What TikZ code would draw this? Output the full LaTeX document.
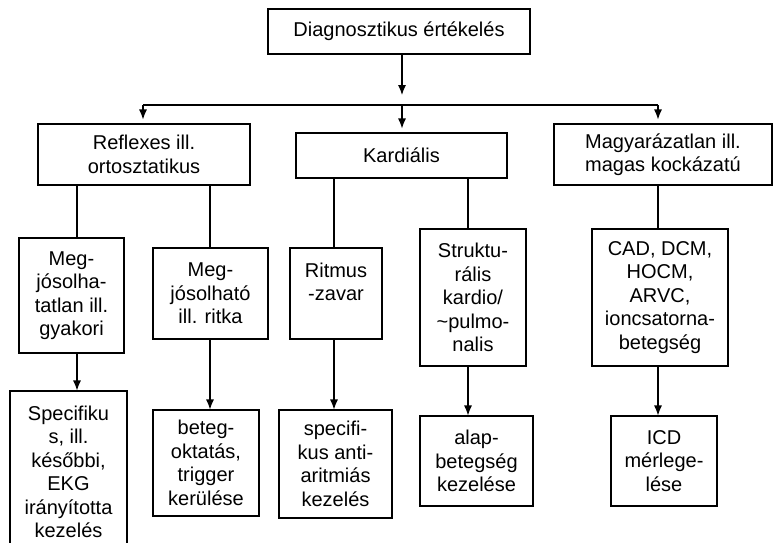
\documentclass[tikz,border=0pt]{standalone}
\usepackage{fontspec}
\setmainfont{Liberation Sans}
\usetikzlibrary{arrows.meta}

\begin{document}
\begin{tikzpicture}[x=1pt,y=-1pt,line width=1.1pt,
  box/.style={draw, align=center, inner sep=0pt,
    font=\fontsize{20}{23.5}\selectfont},
  >={Latex[length=10pt,width=8pt]}]

  \clip (0,0) rectangle (773,542);
  \fill[white] (0,0) rectangle (773,542);

  \node[box, minimum width=262, minimum height=45] (top) at (399,31.5) {Diagnosztikus értékelés};

  \node[box, minimum width=212, minimum height=61] (a1) at (144,154.5) {Reflexes ill.\\ortosztatikus};
  \node[box, minimum width=211, minimum height=45] (a2) at (401.5,155.5) {Kardiális};
  \node[box, minimum width=218, minimum height=61] (a3) at (663,154.5) {Magyarázatlan ill.\\magas kockázatú};

  \node[box, minimum width=105, minimum height=115] (b1) at (71.5,295.5) {Meg-\\jósolha-\\tatlan ill.\\gyakori};
  \node[box, minimum width=115, minimum height=91] (b2) at (210.5,293.5) {Meg-\\jósolható\\ill. ritka};
  \node[box, minimum width=92, minimum height=91] (b3) at (336,293.5) {Ritmus\\-zavar\\~};
  \node[box, minimum width=106, minimum height=137] (b4) at (473,297.5) {Struktu-\\rális\\kardio/\\\textasciitilde pulmo-\\nalis};
  \node[box, minimum width=136, minimum height=137] (b5) at (660,297.5) {CAD, DCM,\\HOCM,\\ARVC,\\ioncsatorna-\\betegség};

  \node[box, minimum width=117, minimum height=162] (c1) at (68.5,472) {Specifiku\\s, ill.\\későbbi,\\EKG\\irányította\\kezelés};
  \node[box, minimum width=106, minimum height=106] (c2) at (206,463) {beteg-\\oktatás,\\trigger\\kerülése};
  \node[box, minimum width=113, minimum height=108] (c3) at (335.5,464) {specifi-\\kus anti-\\aritmiás\\kezelés};
  \node[box, minimum width=113, minimum height=90] (c4) at (476.5,461) {alap-\\betegség\\kezelése};
  \node[box, minimum width=106, minimum height=90] (c5) at (664,461) {ICD\\mérlege-\\lése};

  \coordinate (t1) at (402,95);
  \draw[->] (top.south -| t1) -- (t1);

  \coordinate (s1) at (143,105);
  \coordinate (s2) at (402,105);
  \coordinate (s3) at (658,105);
  \draw (s1) -- (s3);
  \foreach \s/\a in {s1/a1, s2/a2, s3/a3}
    \draw[->, shorten >=4pt] (\s) -- (\s |- \a.north);

  \coordinate (l1) at (77,0);
  \coordinate (l2) at (210,0);
  \coordinate (l3) at (334,0);
  \coordinate (l4) at (468,0);
  \coordinate (l5) at (658,0);
  \foreach \l/\a/\b/\c in {l1/a1/b1/c1, l2/a1/b2/c2, l3/a2/b3/c3,
  l4/a2/b4/c4, l5/a3/b5/c5} {
    \draw (\l |- \a.south) -- (\l |- \b.north);
    \draw[->] (\l |- \b.south) -- (\l |- \c.north);
  }
\end{tikzpicture}
\end{document}
